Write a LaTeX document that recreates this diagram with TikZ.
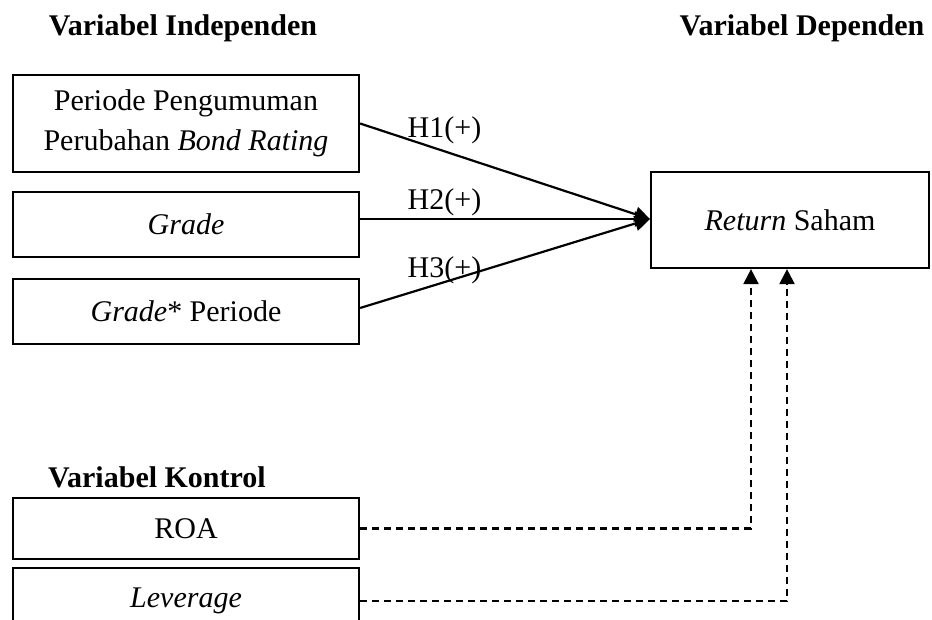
\documentclass[tikz,border=0pt]{standalone}
\usepackage{fontspec}
\setmainfont{Liberation Serif}
\usetikzlibrary{arrows.meta}

\begin{document}
\begin{tikzpicture}[x=1pt, y=-1pt, line width=2.2pt,
  box/.style={draw, minimum width=346pt, inner sep=0pt, align=center,
    font=\fontsize{30}{40}\selectfont},
  head/.style={font=\fontsize{30}{36}\selectfont\bfseries, inner sep=0pt, anchor=base},
  lbl/.style={font=\fontsize{30}{36}\selectfont, inner sep=0pt, anchor=base},
  tip/.style={-{Triangle[length=15pt,width=15pt]}},
  ctrl/.style={dash pattern=on 7pt off 5pt},
]
\clip (0,0) rectangle (932,620);

% section headings
\node[head] (hi) at (183,36) {Variabel Independen};
\node[head] (hd) at (802,36) {Variabel Dependen};
\node[head] (hk) at (157,487) {Variabel Kontrol};

% independent variables
\node[box, minimum height=97pt] (p)  at (186,123.5) {Periode Pengumuman\\Perubahan \textit{Bond Rating}};
\node[box, minimum height=65pt] (g)  at (186,224.5) {\textit{Grade}};
\node[box, minimum height=65pt] (gp) at (186,311.5) {\textit{Grade}* Periode};

% control variables
\node[box, minimum height=61pt] (roa) at (186,528.5) {ROA};
\node[box, minimum height=66pt] (lev) at (186,601) {\textit{Leverage}};

% dependent variable
\node[box, minimum width=278pt, minimum height=96pt] (rs) at (790,220) {\textit{Return} Saham};

% hypotheses
\draw[tip] (p.east) -- ([yshift=1pt]rs.west);
\draw[tip] ([yshift=5.5pt]g.east) -- ([yshift=1pt]rs.west);
\draw[tip] ([yshift=3.5pt]gp.east) -- ([yshift=1pt]rs.west);

\node[lbl] (h1) at (444.5,138) {H1(+)};
\node[lbl] (h2) at (444.5,210) {H2(+)};
\node[lbl] (h3) at (444.5,278) {H3(+)};

% control links
\draw[ctrl, tip] (roa.east) -| ([xshift=-39pt]rs.south);
\draw[ctrl, tip] (lev.east) -| ([xshift=-3pt]rs.south);
\end{tikzpicture}
\end{document}
